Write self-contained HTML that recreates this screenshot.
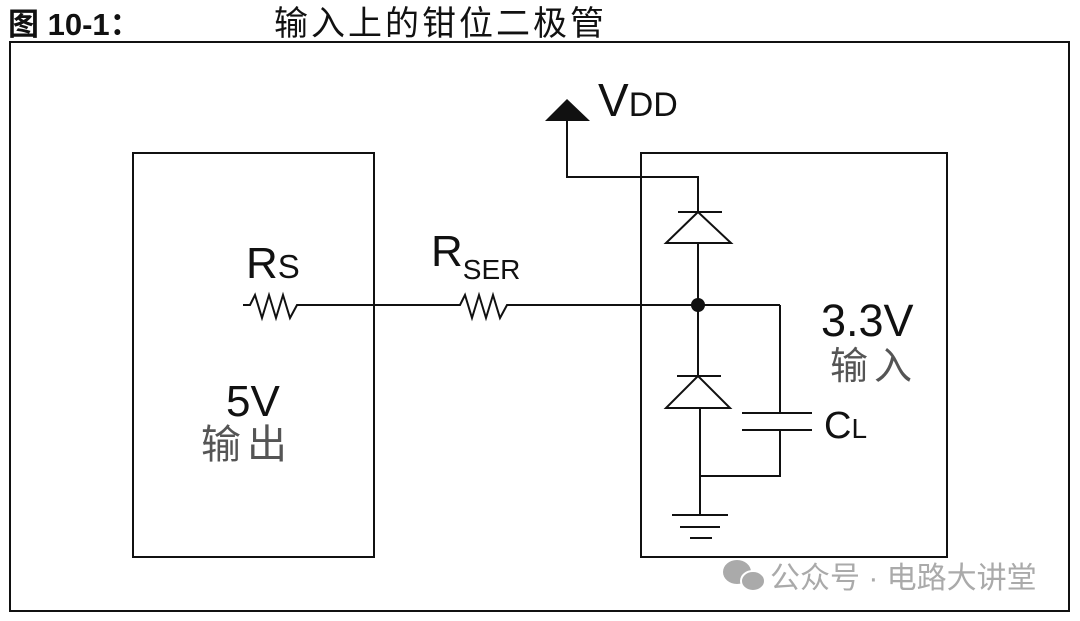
<!DOCTYPE html>
<html><head><meta charset="utf-8"><style>
html,body{margin:0;padding:0;background:#fff;}
svg{display:block;}
text{font-family:"Liberation Sans","Noto Sans CJK SC",sans-serif;}
</style></head><body>
<svg width="1080" height="621" viewBox="0 0 1080 621" xmlns="http://www.w3.org/2000/svg">
<rect width="1080" height="621" fill="#fff"/>
<text x="8" y="35" font-size="31" font-weight="bold" fill="#111">图 10-1：</text>
<text x="274" y="35" font-size="34" fill="#111" letter-spacing="3">输入上的钳位二极管</text>
<g fill="none" stroke="#111" stroke-width="2">
<rect x="10" y="42" width="1059" height="569"/>
<rect x="133" y="153" width="241" height="404"/>
<rect x="641" y="153" width="306" height="404"/>
<line x1="300" y1="305" x2="455" y2="305"/>
<line x1="510" y1="305" x2="780" y2="305"/>
<polyline points="243,305 250,305 255,295 262,318 269,295 276,318 283,295 290,318 297,305 300,305"/>
<polyline points="453,305 460,305 465,295 472,318 479,295 486,318 493,295 500,318 507,305 510,305"/>
<polyline points="567,121 567,177 698,177 698,212"/>
<line x1="678" y1="212" x2="722" y2="212"/>
<polygon points="698,212 666,243 731,243"/>
<line x1="698" y1="243" x2="698" y2="376"/>
<line x1="677" y1="376" x2="721" y2="376"/>
<polygon points="698,376 666,408 730,408"/>
<line x1="700" y1="408" x2="700" y2="515"/>
<polyline points="780,305 780,413"/>
<line x1="742" y1="413" x2="812" y2="413"/>
<line x1="742" y1="430" x2="812" y2="430"/>
<polyline points="780,430 780,476 700,476"/>
<line x1="672" y1="515" x2="728" y2="515"/>
<line x1="680" y1="527" x2="720" y2="527"/>
<line x1="690" y1="538" x2="712" y2="538"/>
</g>
<polygon points="567,99 545,121 590,121" fill="#111"/>
<circle cx="698" cy="305" r="7" fill="#111"/>
<text x="598" y="116" font-size="46" fill="#111">V<tspan font-size="34">DD</tspan></text>
<text x="246" y="278" font-size="44" fill="#111">R<tspan font-size="33">S</tspan></text>
<text x="431" y="266" font-size="44" fill="#111">R<tspan font-size="28" dy="13">SER</tspan></text>
<text x="226" y="416" font-size="44" fill="#111">5V</text>
<text x="201" y="458" font-size="40" fill="#555" letter-spacing="6">输出</text>
<text x="821" y="336" font-size="45" fill="#111">3.3V</text>
<text x="830" y="379" font-size="38" fill="#555" letter-spacing="6">输入</text>
<text x="824" y="438" font-size="38" fill="#111">C<tspan font-size="28">L</tspan></text>
<g fill="#aaa">
<ellipse cx="737" cy="572" rx="14" ry="12"/>
<ellipse cx="753" cy="581" rx="12" ry="10" stroke="#fff" stroke-width="2"/>
</g>
<text x="770" y="588" font-size="30" fill="#aaa">公众号 · 电路大讲堂</text>
</svg>
</body></html>
